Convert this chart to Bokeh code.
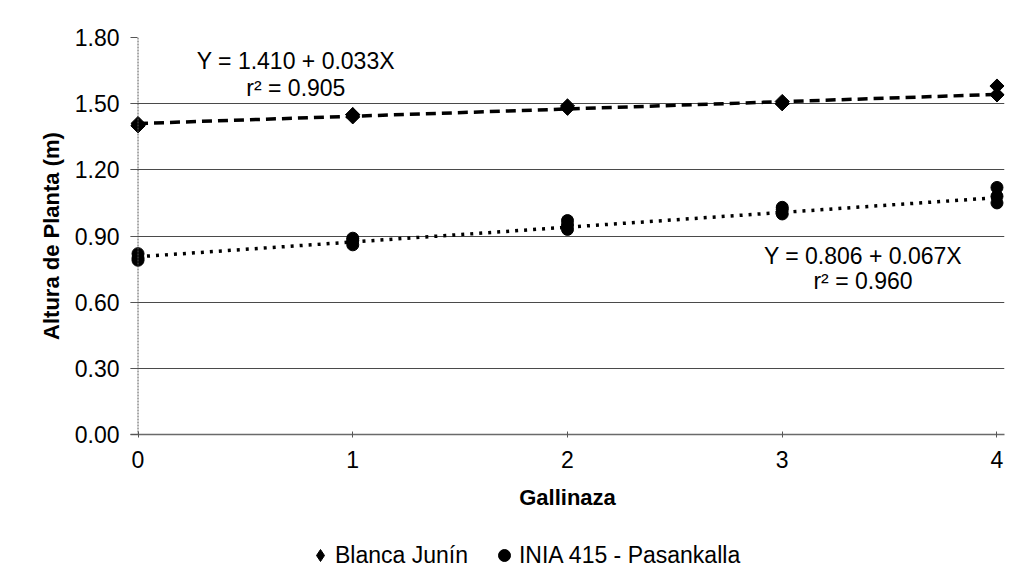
from bokeh.plotting import figure
from bokeh.layouts import column
from bokeh.models import Range1d, FixedTicker, NumeralTickFormatter, Legend, LegendItem, Label, Span
from bokeh.embed import file_html
from bokeh.resources import INLINE

# ---- data ----
gallinaza = [0, 0, 0, 1, 1, 1, 2, 2, 2, 3, 3, 3, 4, 4, 4]
blanca_junin = [1.40, 1.40, 1.41, 1.44, 1.45, 1.45, 1.48, 1.49, 1.48, 1.50, 1.50, 1.51, 1.58, 1.54, 1.54]
inia_415 = [0.79, 0.80, 0.82, 0.86, 0.88, 0.89, 0.93, 0.95, 0.97, 1.00, 1.02, 1.03, 1.05, 1.08, 1.12]
series_names = ["Blanca Junín", "INIA 415 - Pasankalla"]
intercepts = [1.410, 0.806]
slopes = [0.033, 0.067]
r2_values = [0.905, 0.960]
x_ticks = [0, 1, 2, 3, 4]
y_ticks = [0.0, 0.3, 0.6, 0.9, 1.2, 1.5, 1.8]
x_title = "Gallinaza"
y_title = "Altura de Planta (m)"

FONT = "Liberation Sans"

p = figure(width=1006, height=520, output_backend="svg", toolbar_location=None,
           x_range=Range1d(-0.035, 4.035), y_range=Range1d(0, 1.8),
           min_border_left=130, min_border_right=2, min_border_top=37, min_border_bottom=86)
p.outline_line_color = None
p.background_fill_color = "white"
p.border_fill_color = "white"

# grid
p.xgrid.grid_line_color = None
p.ygrid.ticker = FixedTicker(ticks=y_ticks)
p.ygrid.grid_line_color = "#4a4a4a"
p.ygrid.grid_line_width = 1

# axes
p.xaxis.ticker = FixedTicker(ticks=x_ticks)
p.yaxis.ticker = FixedTicker(ticks=y_ticks)
p.yaxis.formatter = NumeralTickFormatter(format="0.00")
for ax in (p.xaxis, p.yaxis):
    ax.minor_tick_line_color = None
    ax.major_label_text_font = FONT
    ax.major_label_text_font_size = "23px"
    ax.major_label_text_color = "black"
    ax.axis_label_text_font = FONT
    ax.axis_label_text_font_size = "22px"
    ax.axis_label_text_font_style = "bold"
    ax.axis_label_text_color = "black"
    ax.major_tick_line_color = "#555555"
p.xaxis.axis_label = x_title
p.yaxis.axis_label = y_title
p.xaxis.axis_line_color = "#6a6a6a"
p.xaxis.axis_line_width = 1.5
p.xaxis.major_tick_in = 3
p.xaxis.major_tick_out = 3
p.xaxis.major_label_standoff = 13
p.xaxis.axis_label_standoff = 14
p.yaxis.axis_line_color = None
p.yaxis.major_tick_in = 7
p.yaxis.major_tick_out = 0
p.yaxis.major_label_standoff = 11
p.yaxis.axis_label_standoff = 8

# vertical axis line at x = 0 (dotted like the reference)
p.add_layout(Span(location=0, dimension="height", line_color="#555555",
                  line_width=1, line_dash="2 1"))

# regression lines
line_x = [x_ticks[0], x_ticks[-1]]
fit0 = [intercepts[0] + slopes[0] * x for x in line_x]
fit1 = [intercepts[1] + slopes[1] * x for x in line_x]
p.line(line_x, fit0, line_color="black", line_width=3.5, line_dash="10 6")
p.line(line_x, fit1, line_color="black", line_width=3.5, line_dash="3 6")

# points
marker_b = dict(marker="square", angle=0.785, size=10, fill_color="black", line_color="black")
marker_i = dict(marker="circle", size=12, fill_color="black", line_color="black")
p.scatter(gallinaza, blanca_junin, **marker_b)
p.scatter(gallinaza, inia_415, **marker_i)

# equations
eq_pos = [(0.735, 1.695, 1.573), (3.376, 0.811, 0.698)]
for k in range(2):
    x, y1, y2 = eq_pos[k]
    p.add_layout(Label(x=x, y=y1, text=f"Y = {intercepts[k]:.3f} + {slopes[k]:.3f}X",
                       text_align="center", text_baseline="middle",
                       text_font=FONT, text_font_size="23px", text_color="black"))
    p.add_layout(Label(x=x, y=y2, text=f"r² = {r2_values[k]:.3f}",
                       text_align="center", text_baseline="middle",
                       text_font=FONT, text_font_size="23px", text_color="black"))

# legend strip below the chart
q = figure(width=1006, height=54, output_backend="svg", toolbar_location=None,
           x_range=Range1d(0, 1), y_range=Range1d(0, 1),
           x_axis_location=None, y_axis_location=None,
           min_border_left=0, min_border_right=0, min_border_top=0, min_border_bottom=0)
q.grid.visible = False
q.outline_line_color = None
q.border_fill_color = "white"
lb = q.scatter(gallinaza, blanca_junin, visible=False, marker="diamond",
               fill_color="black", line_color="black")
li = q.scatter(gallinaza, inia_415, visible=False, marker="circle",
               fill_color="black", line_color="black")
legend = Legend(items=[LegendItem(label=series_names[0], renderers=[lb]),
                       LegendItem(label=series_names[1], renderers=[li])],
                orientation="horizontal", location=(175, 4),
                glyph_width=30, glyph_height=30, label_standoff=0, spacing=21,
                padding=0, margin=0, border_line_color=None, background_fill_alpha=0,
                label_text_font=FONT, label_text_font_size="23px", label_text_color="black")
q.add_layout(legend)

open("out.html", "w").write(file_html(column(p, q, spacing=0), INLINE))
